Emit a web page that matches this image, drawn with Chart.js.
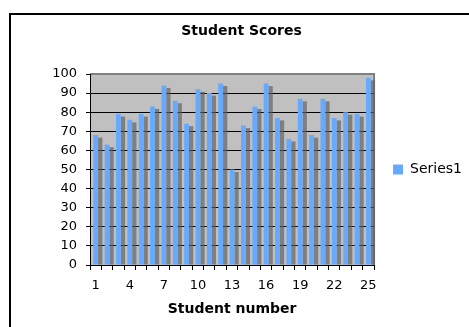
<!DOCTYPE html>
<html>
<head>
<meta charset="utf-8">
<style>
  html, body { margin: 0; padding: 0; background: #ffffff; }
  #wrap { width: 469px; height: 327px; position: relative; }
</style>
<script src="https://cdn.jsdelivr.net/npm/chart.js@4.4.1/dist/chart.umd.min.js"></script>
</head>
<body>
<div id="wrap"><canvas id="chart" width="469" height="327"></canvas></div>
<script>
// Student numbers along the x axis
const students = ['1','2','3','4','5','6','7','8','9','10','11','12','13',
                  '14','15','16','17','18','19','20','21','22','23','24','25'];
// Score for each student
const scores = [68, 63, 79, 76, 79, 83, 94, 86, 74, 92, 90, 95, 50,
                73, 83, 95, 77, 66, 87, 68, 87, 77, 80, 79, 98];
// Score axis ticks
const scoreTicks = [0, 10, 20, 30, 40, 50, 60, 70, 80, 90, 100];

const FONT = 'DejaVu Sans';

// Grey back wall, frame around the chart, and the 3D side face of each column
const wallPlugin = {
  id: 'wall',
  beforeDraw(chart) {
    const { ctx, chartArea: a } = chart;
    ctx.save();
    // outer chart frame
    ctx.strokeStyle = '#000';
    ctx.lineWidth = 2;
    ctx.strokeRect(10, 14, 480, 340);
    // plot wall
    ctx.fillStyle = '#c0c0c0';
    ctx.fillRect(a.left, a.top, a.right - a.left, a.bottom - a.top);
    ctx.strokeStyle = '#808080';
    ctx.lineWidth = 2;
    ctx.beginPath();
    ctx.moveTo(a.left, a.top);
    ctx.lineTo(a.right, a.top);
    ctx.lineTo(a.right, a.bottom);
    ctx.stroke();
    ctx.restore();
  },
  beforeDatasetsDraw(chart) {
    const { ctx } = chart;
    const meta = chart.getDatasetMeta(0);
    ctx.save();
    ctx.fillStyle = 'rgba(96,96,96,0.67)';
    meta.data.forEach(bar => {
      const p = bar.getProps(['x', 'y', 'width', 'base'], true);
      const drop = 2.5;
      ctx.fillRect(p.x + p.width / 2, p.y + drop, 4.3, p.base - p.y - drop);
    });
    ctx.restore();
  }
};

new Chart(document.getElementById('chart'), {
  type: 'bar',
  data: {
    labels: students,
    datasets: [{
      label: 'Series1',
      data: scores,
      backgroundColor: '#66aaff',
      borderWidth: 0,
      barPercentage: 0.42,
      categoryPercentage: 1.0
    }]
  },
  options: {
    responsive: false,
    animation: false,
    layout: { padding: { left: 11, right: -3, top: 0, bottom: 0 } },
    plugins: {
      title: {
        display: true,
        text: 'Student Scores',
        color: '#000',
        font: { family: FONT, size: 14, weight: 'bold' },
        padding: { top: 23, bottom: 34.2 }
      },
      legend: {
        position: 'right',
        fullSize: false,
        labels: {
          boxWidth: 10,
          boxHeight: 10,
          padding: 19,
          color: '#000',
          font: { family: FONT, size: 14 }
        }
      },
      tooltip: { enabled: false }
    },
    scales: {
      x: {
        grid: {
          offset: true,
          drawOnChartArea: false,
          drawTicks: true,
          tickLength: 5,
          tickColor: '#000'
        },
        border: { display: true, color: '#000', width: 1 },
        ticks: {
          autoSkip: false,
          maxRotation: 0,
          padding: 8,
          color: '#000',
          font: { family: FONT, size: 13 },
          callback(value, index) {
            return index % 3 === 0 ? students[index] : '';
          }
        },
        title: {
          display: true,
          text: 'Student number',
          color: '#000',
          font: { family: FONT, size: 14, weight: 'bold' },
          padding: { top: 6, bottom: 9.6 }
        },
        afterFit(scale) { scale.height = 62; }
      },
      y: {
        min: scoreTicks[0],
        max: scoreTicks[scoreTicks.length - 1],
        afterBuildTicks(scale) {
          scale.ticks = scoreTicks.map(v => ({ value: v }));
        },
        grid: {
          color: ctx => (ctx.tick && ctx.tick.value === 100 ? '#808080' : '#000'),
          tickColor: '#000',
          tickLength: 4,
          lineWidth: 1
        },
        border: { display: true, color: '#000', width: 1 },
        ticks: {
          padding: 9,
          color: '#000',
          font: { family: FONT, size: 13 }
        },
        afterFit(scale) { scale.width = 79; }
      }
    }
  },
  plugins: [wallPlugin]
});
</script>
</body>
</html>
